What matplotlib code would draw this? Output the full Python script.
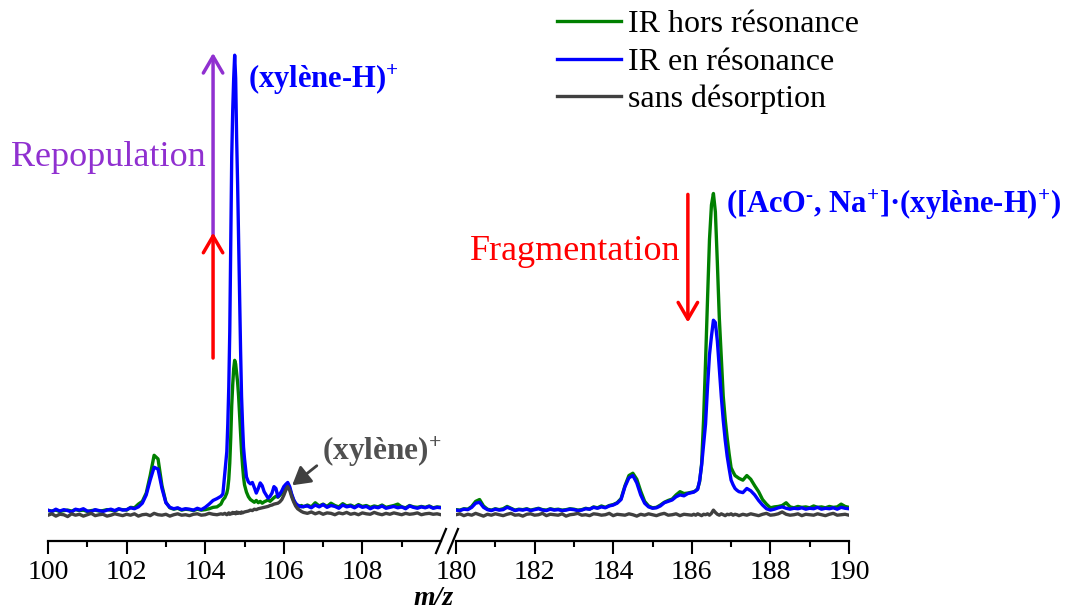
import numpy as np
import matplotlib
matplotlib.use("Agg")
import matplotlib.pyplot as plt
from matplotlib.lines import Line2D

plt.rcParams['font.family'] = ['Liberation Serif', 'DejaVu Serif']
plt.rcParams['mathtext.fontset'] = 'custom'
plt.rcParams['mathtext.rm'] = 'Liberation Serif'
plt.rcParams['mathtext.bf'] = 'Liberation Serif:bold'
plt.rcParams['mathtext.it'] = 'Liberation Serif:italic'

# ---------------- data ----------------
# m/z sampling, left block (100-110)
mz_left = np.concatenate([
    np.linspace(100.0, 104.4, 45),
    [104.45, 104.5, 104.55, 104.575, 104.6, 104.625, 104.65, 104.675, 104.7, 104.725,
     104.75, 104.775, 104.8, 104.825, 104.85, 104.875, 104.9, 104.925, 104.95, 104.975,
     105.0, 105.05],
    np.linspace(105.1, 106.5, 29),
    np.linspace(106.6, 110.0, 35),
])
# m/z sampling, right block (180-190)
mz_right = np.concatenate([
    np.linspace(180.0, 186.0, 61),
    np.linspace(186.05, 187.2, 24),
    np.linspace(187.3, 190.0, 28),
])

hors_left = (
    [1.2, 1.1, 1.3, 1.0, 1.2, 1.3, 1.1, 1.4, 1.2, 1.3, 1.0, 1.2, 1.3, 1.1, 1.2,
     1.4, 1.3, 1.1, 1.5, 1.4, 1.3, 1.9, 1.8, 2.6, 3.2, 5.0, 8.8, 13.2, 12.4, 6.6,
     3.0, 1.8, 1.5, 1.7, 1.3, 1.5, 1.4, 1.2, 1.5, 1.3, 1.4, 1.6, 1.9, 2.0, 2.6]
    + [3.5, 4.0, 5.0, 6.0, 8.0, 11.5, 17.0, 24.0, 28.5, 32.0, 33.8, 33.0, 31.0, 29.0,
       26.0, 22.0, 18.0, 14.0, 11.0, 8.5, 6.8, 5.2]
    + [4.2, 3.6, 3.3, 3.0, 3.4, 2.9, 3.2, 2.8, 3.1, 3.3, 3.5, 3.2, 3.6, 4.0, 4.3,
       4.1, 4.5, 5.0, 5.8, 6.3, 6.8, 6.0, 4.6, 3.4, 2.7, 2.3, 2.1, 2.3, 2.0]
    + [2.4, 2.0, 2.9, 2.2, 2.6, 2.1, 2.8, 2.3, 2.0, 2.7, 2.2, 2.4, 2.0, 2.5, 2.1,
       2.3, 1.9, 2.2, 2.0, 2.4, 1.9, 2.1, 2.3, 2.6, 2.0, 1.8, 2.3, 2.0, 1.9, 2.1,
       1.9, 2.2, 1.8, 2.0, 1.9]
)
en_left = (
    [1.3, 1.0, 1.5, 1.1, 1.4, 1.2, 0.9, 1.5, 1.3, 1.6, 1.1, 1.0, 1.4, 1.2, 1.0,
     1.3, 1.5, 1.2, 1.6, 1.3, 1.4, 1.8, 1.6, 2.0, 2.8, 4.6, 7.8, 10.6, 10.2, 6.0,
     2.9, 1.9, 1.6, 1.8, 1.4, 1.6, 1.5, 1.3, 1.7, 1.4, 1.9, 2.6, 3.4, 3.8, 4.3]
    + [4.8, 9.3, 14.0, 20.0, 28.0, 40.0, 60.0, 78.0, 88.0, 95.0, 100.0, 95.0, 82.0,
       72.0, 60.0, 47.0, 36.0, 26.0, 20.0, 15.0, 12.5, 8.5]
    + [7.4, 7.0, 7.3, 6.2, 5.0, 6.0, 7.2, 6.6, 5.3, 4.6, 3.9, 4.3, 5.0, 6.4, 6.0,
       4.2, 4.8, 5.5, 6.4, 6.9, 7.3, 6.4, 4.8, 3.6, 2.8, 2.4, 2.2, 2.0, 2.1]
    + [2.2, 1.8, 2.4, 2.0, 2.5, 1.9, 2.3, 2.1, 1.7, 2.4, 2.0, 2.2, 1.8, 2.3, 1.9,
       2.1, 1.6, 2.0, 1.8, 2.2, 1.7, 1.9, 2.1, 1.8, 2.0, 1.6, 2.2, 1.9, 1.7, 2.0,
       1.8, 2.1, 1.7, 1.9, 1.8]
)
sans_left = (
    [0.2, 0.5, 0.0, 0.4, 0.3, -0.1, 0.5, 0.2, 0.4, 0.0, 0.3, 0.6, 0.1, 0.3, 0.4,
     0.0, 0.2, 0.5, 0.3, 0.1, 0.4, 0.2, 0.5, 0.0, 0.3, 0.4, 0.1, 0.6, 0.3, 0.2,
     0.4, 0.0, 0.3, 0.5, 0.2, 0.3, 0.1, 0.4, 0.5, 0.2, 0.3, 0.6, 0.4, 0.3, 0.5]
    + [0.4, 0.6, 0.3, 0.5, 0.7, 0.4, 0.6, 0.5, 0.8, 0.6, 0.7, 0.5, 0.9, 0.6, 0.8,
       0.7, 0.6, 0.9, 0.7, 0.8, 0.9, 1.0]
    + [1.1, 1.3, 1.2, 1.5, 1.4, 1.6, 1.7, 1.8, 1.9, 2.0, 2.1, 2.3, 2.4, 2.6, 2.7,
       2.8, 3.1, 3.6, 4.5, 5.6, 6.4, 5.6, 4.2, 3.1, 2.2, 1.6, 1.3, 1.0, 0.8]
    + [0.6, 0.9, 0.5, 0.8, 0.4, 0.7, 0.6, 0.3, 0.7, 0.5, 0.8, 0.4, 0.6, 0.3, 0.7,
       0.5, 0.4, 0.8, 0.5, 0.3, 0.6, 0.4, 0.7, 0.5, 0.3, 0.6, 0.4, 0.5, 0.7, 0.3,
       0.5, 0.6, 0.4, 0.5, 0.3]
)

hors_right = (
    [1.4, 1.3, 1.6, 1.5, 2.1, 3.2, 3.6, 2.2, 1.5, 1.3, 1.6, 1.4, 1.6, 2.1, 1.7,
     1.3, 1.5, 1.4, 1.6, 1.3, 1.5, 1.7, 1.4, 1.3, 1.6, 1.4, 1.5, 1.3, 1.4, 1.6,
     1.5, 1.3, 1.4, 1.7, 1.5, 2.0, 1.8, 2.2, 1.9, 2.3, 2.5, 2.9, 3.8, 6.6, 8.8,
     9.3, 8.0, 5.4, 3.2, 2.2, 1.8, 1.9, 2.4, 3.0, 3.4, 3.7, 4.6, 5.3, 4.9, 5.0, 5.2]
    + [5.3, 5.5, 6.0, 7.5, 11.4, 21.0, 33.5, 47.0, 60.0, 67.5, 70.0, 66.0, 55.0,
       43.0, 34.5, 26.0, 21.0, 17.0, 13.5, 10.5, 9.6, 8.8, 8.5, 8.2]
    + [7.8, 8.8, 8.0, 6.6, 5.3, 3.6, 2.6, 1.8, 2.0, 2.1, 2.3, 2.9, 2.0, 1.8, 2.1,
       1.9, 2.0, 1.8, 2.2, 1.9, 2.0, 1.8, 2.1, 1.9, 2.0, 2.6, 2.1, 1.9]
)
en_right = (
    [1.3, 1.2, 1.5, 1.4, 1.9, 2.8, 3.0, 1.9, 1.4, 1.2, 1.5, 1.3, 1.4, 1.9, 1.6,
     1.2, 1.4, 1.3, 1.5, 1.2, 1.4, 1.6, 1.3, 1.2, 1.5, 1.3, 1.4, 1.2, 1.3, 1.5,
     1.4, 1.2, 1.3, 1.6, 1.5, 1.9, 1.7, 2.0, 1.8, 2.2, 2.4, 2.8, 3.6, 6.4, 8.3,
     8.8, 7.2, 4.6, 2.8, 2.0, 1.7, 1.8, 2.2, 2.9, 3.2, 3.5, 4.2, 4.6, 4.4, 4.9, 5.1]
    + [5.2, 5.5, 5.8, 7.8, 11.0, 15.5, 20.0, 28.0, 35.0, 39.0, 42.5, 42.0, 38.0,
       32.0, 26.0, 20.8, 16.5, 13.0, 10.3, 7.8, 6.8, 6.0, 5.6, 5.3]
    + [5.1, 6.0, 5.5, 4.6, 3.4, 2.4, 1.6, 1.3, 1.5, 1.8, 2.0, 1.7, 1.5, 1.7, 1.6,
       1.8, 1.5, 1.7, 1.6, 1.9, 1.5, 1.7, 1.6, 1.8, 1.5, 1.9, 1.7, 1.6]
)
sans_right = (
    [0.3, 0.5, 0.1, 0.4, 0.2, 0.6, 0.3, 0.0, 0.4, 0.2, 0.5, 0.3, 0.1, 0.4, 0.6,
     0.2, 0.3, 0.0, 0.4, 0.5, 0.2, 0.3, 0.6, 0.1, 0.4, 0.3, 0.2, 0.5, 0.0, 0.3,
     0.4, 0.6, 0.2, 0.3, 0.1, 0.5, 0.4, 0.2, 0.3, 0.6, 0.1, 0.4, 0.3, 0.2, 0.5,
     0.3, 0.0, 0.4, 0.2, 0.5, 0.3, 0.1, 0.4, 0.6, 0.2, 0.3, 0.5, 0.1, 0.4, 0.3, 0.2]
    + [0.4, 0.2, 0.5, 0.3, 0.1, 0.4, 0.3, 0.5, 0.2, 0.6, 1.3, 0.8, 0.4, 0.2, 0.5,
       0.3, 0.1, 0.4, 0.3, 0.5, 0.2, 0.4, 0.3, 0.1]
    + [0.4, 0.2, 0.5, 0.3, 0.1, 0.4, 0.6, 0.2, 0.3, 0.5, 0.9, 0.4, 0.2, 0.3, 0.5,
       0.1, 0.4, 0.3, 0.2, 0.5, 0.3, 0.1, 0.4, 0.6, 0.2, 0.3, 0.4, 0.2]
)

series_labels = ["IR hors résonance", "IR en résonance", "sans désorption"]
series_colors = ["#008000", "#0000FF", "#404040"]

left_ticks = [100, 102, 104, 106, 108]
right_ticks = [180, 182, 184, 186, 188, 190]

# ---------------- figure ----------------
W, H = 1072, 611
fig = plt.figure(figsize=(W / 100, H / 100), dpi=100)

def fx(px):
    return px / W

def fy(py):
    return 1 - py / H

ax_l = fig.add_axes([fx(48), fy(541), fx(441) - fx(48), fy(40) - fy(541)])
ax_r = fig.add_axes([fx(456), fy(541), fx(849) - fx(456), fy(40) - fy(541)])

ylim = (-5.4, 103.3)
for ax, mz, ys, xlim, ticks in [
    (ax_l, mz_left, [hors_left, en_left, sans_left], (100, 110), left_ticks),
    (ax_r, mz_right, [hors_right, en_right, sans_right], (180, 190), right_ticks),
]:
    for k, (y, c, lab) in enumerate(zip(ys, series_colors, series_labels)):
        ax.plot(mz, y, color=c, lw=2.4, label=lab, zorder=2 + k)
    ax.set_xlim(*xlim)
    ax.set_ylim(*ylim)
    for s in ["top", "left", "right"]:
        ax.spines[s].set_visible(False)
    ax.spines["bottom"].set_linewidth(1.6)
    ax.set_yticks([])
    ax.set_xticks(ticks)
    ax.set_xticks([t + 1 for t in ticks if t + 1 < xlim[1]], minor=True)
    ax.tick_params(axis="x", which="major", direction="out", length=9, width=1.5,
                   labelsize=20, pad=5)
    ax.tick_params(axis="x", which="minor", direction="out", length=4.5, width=1.5)
    ax.patch.set_alpha(0)

# axis break marks
for x0 in (436, 448):
    fig.add_artist(Line2D([fx(x0), fx(x0 + 10)], [fy(553), fy(529)],
                          color="black", lw=1.6))

# x label
fig.text(fx(434), fy(605), "m/z", ha="center", va="baseline", fontsize=20,
         fontweight="bold", fontstyle="italic")

# legend
h, l = ax_l.get_legend_handles_labels()
fig.legend(h, l, loc="upper left", bbox_to_anchor=(fx(557), fy(10)),
           frameon=False, fontsize=23, handlelength=2.0, handletextpad=0.22,
           labelspacing=0.25, borderpad=0, borderaxespad=0)

# arrows
purple = "#9030D0"
ax_l.annotate("", xy=(104.2, 100.5), xytext=(104.2, 60.5),
              arrowprops=dict(arrowstyle="->,head_length=0.6,head_width=0.35",
                              color=purple, lw=2.5, mutation_scale=20,
                              shrinkA=0, shrinkB=0))
ax_l.annotate("", xy=(104.2, 61.5), xytext=(104.2, 34.3),
              arrowprops=dict(arrowstyle="->,head_length=0.6,head_width=0.35",
                              color="red", lw=2.5, mutation_scale=20,
                              shrinkA=0, shrinkB=0))
ax_r.annotate("", xy=(185.9, 42.0), xytext=(185.9, 69.8),
              arrowprops=dict(arrowstyle="->,head_length=0.6,head_width=0.35",
                              color="red", lw=2.5, mutation_scale=20,
                              shrinkA=0, shrinkB=0))

# text labels
fig.text(fx(108), fy(157), "Repopulation", color=purple, fontsize=26,
         ha="center", va="center")
fig.text(fx(575), fy(252), "Fragmentation", color="red", fontsize=26,
         ha="center", va="center")
fig.text(fx(248), fy(80), r"(xylène-H)$^{\mathbf{+}}$", color="#0000FF",
         fontsize=22, fontweight="bold", ha="left", va="center")
fig.text(fx(726), fy(205),
         r"([AcO$^{\text{-}}$, Na$^{\mathbf{+}}$]·(xylène-H)$^{\mathbf{+}}$)",
         color="#0000FF", fontsize=22, fontweight="bold", ha="left", va="center")
fig.text(fx(322), fy(452), r"(xylène)$^{\mathbf{+}}$", color="#505050",
         fontsize=22.5, fontweight="bold", ha="left", va="center")
fig.add_artist(matplotlib.patches.FancyArrowPatch(
    (fx(319), fy(464)), (fx(290), fy(487)), transform=fig.transFigure,
    arrowstyle="-|>,head_length=0.6,head_width=0.35", mutation_scale=18,
    color="#404040", lw=2))

fig.savefig("out.png", dpi=100)
